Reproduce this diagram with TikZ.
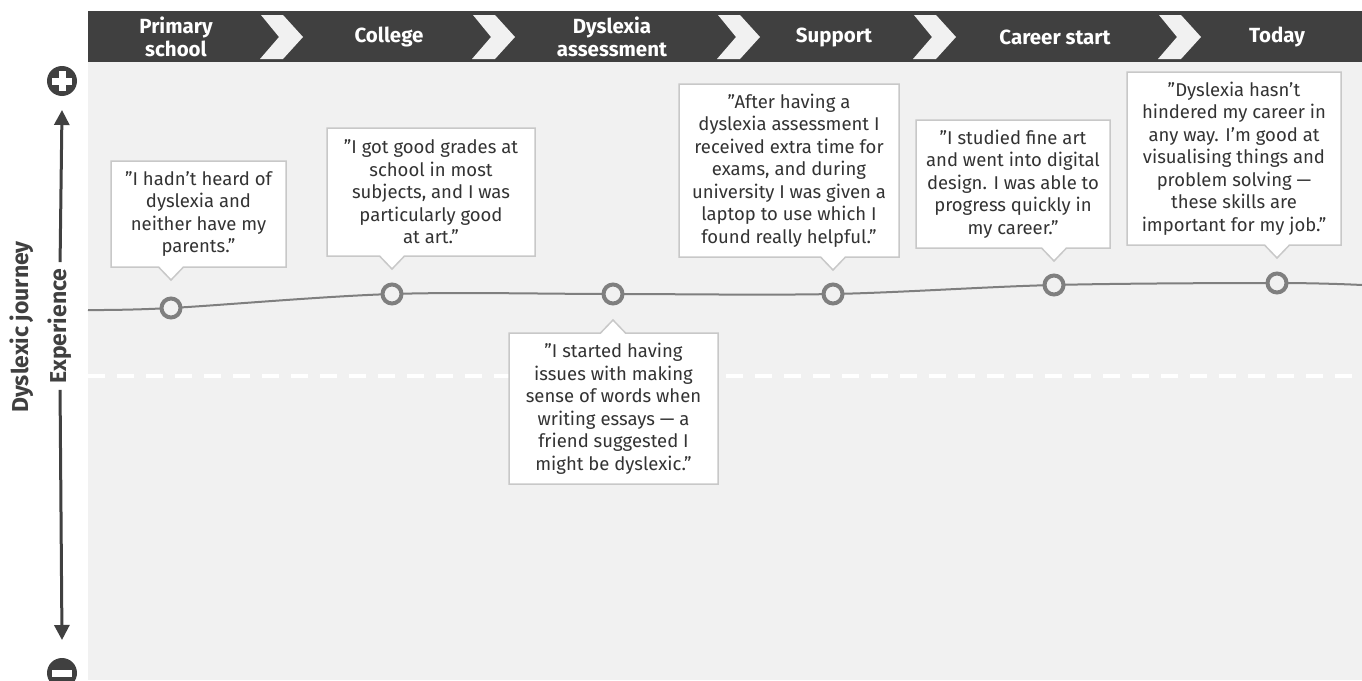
\documentclass[tikz,border=0pt]{standalone}
\usepackage{fontspec}
\setmainfont{Fira Sans}
\usetikzlibrary{arrows.meta}
\definecolor{hdr}{HTML}{404040}
\definecolor{panel}{HTML}{F1F1F1}
\definecolor{curvec}{HTML}{7F7F7F}
\definecolor{boxline}{HTML}{C8C8C8}
\definecolor{txt}{HTML}{333333}
\tikzset{
  hlabel/.style={text=white, font=\fontsize{20.5}{23}\selectfont\bfseries, align=center, inner sep=0},
  quote/.style={text=txt, font=\fontsize{18.5}{22.5}\selectfont, align=center, inner sep=0},
  callout/.style={fill=white, draw=boxline, line width=1.5pt, line join=miter},
  stage/.style={circle, draw=curvec, line width=4pt, fill=panel, minimum size=19pt, inner sep=0},
  journey/.style={draw=curvec, line width=2pt},
  axlabel/.style={text=hdr, font=\fontsize{23}{26}\selectfont\bfseries, inner sep=0, rotate=90},
  axisline/.style={draw=hdr, line width=3pt, -{Triangle[length=15pt,width=15pt]}},
  icon/.style={circle, fill=hdr, minimum size=30pt, inner sep=0},
  chev/.style={fill=panel},
}
\begin{document}
\begin{tikzpicture}[x=1pt,y=-1pt]
\useasboundingbox (0,0) rectangle (1362,680);
% panels
\fill[panel] (88,62) rectangle (1362,680);
\fill[hdr] (88,11) rectangle (1362,62);
% chevrons
\foreach \c in {260,472,717,913,1158}
  \fill[chev] (\c+1,15) -- (\c+23,15) -- (\c+43,37) -- (\c+23,59) -- (\c,59) -- (\c+19,37) -- cycle;
% header labels
\node[hlabel] (h1) at (176,37) {Primary\\school};
\node[hlabel] (h2) at (389,37) {College};
\node[hlabel] (h3) at (612,37) {Dyslexia\\assessment};
\node[hlabel] (h4) at (834,37) {Support};
\node[hlabel] (h5) at (1055,37) {Career start};
\node[hlabel] (h6) at (1277,37) {Today};
% dashed midline
\draw[white, line width=4pt, dash pattern=on 17pt off 12pt] (88,376) -- (1362,376);
% journey curve
\coordinate (k0) at (88,310);
\coordinate (k1) at (171,308);
\coordinate (k2) at (392,294);
\coordinate (k3) at (613,294);
\coordinate (k4) at (833,294);
\coordinate (k5) at (1054,285);
\coordinate (k6) at (1277,283);
\coordinate (k7) at (1362,285);
\draw[journey] plot[smooth, tension=0.55] coordinates {(k0) (k1) (k2) (k3) (k4) (k5) (k6) (k7)};
\foreach \i in {1,...,6} \node[stage] (p\i) at (k\i) {};
% callouts
\filldraw[callout] (111,161) -- (286,161) -- (286,267) -- (183.5,267) -- (171,280) -- (158.5,267) -- (111,267) -- cycle;
\node[quote] (q1) at (198.5,214) {"I hadn’t heard of\\dyslexia and\\neither have my\\parents."};
\filldraw[callout] (327,128) -- (535,128) -- (535,256) -- (404.5,256) -- (392,269) -- (379.5,256) -- (327,256) -- cycle;
\node[quote] (q2) at (431,192) {"I got good grades at\\school in most\\subjects, and I was\\particularly good\\at art."};
\filldraw[callout] (509,333) -- (600.5,333) -- (613,320) -- (625.5,333) -- (718,333) -- (718,484) -- (509,484) -- cycle;
\node[quote] (q3) at (613.5,408.5) {"I started having\\issues with making\\sense of words when\\writing essays — a\\friend suggested I\\might be dyslexic."};
\filldraw[callout] (679,84) -- (899,84) -- (899,257) -- (845.5,257) -- (833,270) -- (820.5,257) -- (679,257) -- cycle;
\node[quote] (q4) at (789,170.5) {"After having a\\dyslexia assessment I\\received extra time for\\exams, and during\\university I was given a\\laptop to use which I\\found really helpful."};
\filldraw[callout] (916,120) -- (1110,120) -- (1110,248) -- (1066.5,248) -- (1054,261) -- (1041.5,248) -- (916,248) -- cycle;
\node[quote] (q5) at (1013,184) {"I studied fine art\\and went into digital\\design. I was able to\\progress quickly in\\my career."};
\filldraw[callout] (1127,72) -- (1341,72) -- (1341,245) -- (1289.5,245) -- (1277,258) -- (1264.5,245) -- (1127,245) -- cycle;
\node[quote] (q6) at (1234,158.5) {"Dyslexia hasn’t\\hindered my career in\\any way. I’m good at\\visualising things and\\problem solving —\\these skills are\\important for my job."};
% left axis
\node[axlabel] (dj) at (22,327) {Dyslexic journey};
\node[axlabel] (ex) at (60,326) {Experience};
\node[icon] (plus) at (62,81) {};
\node[icon] (minus) at (62,673) {};
\fill[white] ([xshift=-10pt,yshift=-3.5pt]plus.center) rectangle ([xshift=10pt,yshift=3.5pt]plus.center);
\fill[white] ([xshift=-3.5pt,yshift=-10pt]plus.center) rectangle ([xshift=3.5pt,yshift=10pt]plus.center);
\fill[white] ([xshift=-10pt,yshift=-3.5pt]minus.center) rectangle ([xshift=10pt,yshift=3.5pt]minus.center);
\coordinate (up) at (62,110);
\coordinate (down) at (62,640);
\draw[axisline, shorten <=6pt] (ex.east) -- (up);
\draw[axisline, shorten <=6pt] (ex.west) -- (down);
\end{tikzpicture}
\end{document}
